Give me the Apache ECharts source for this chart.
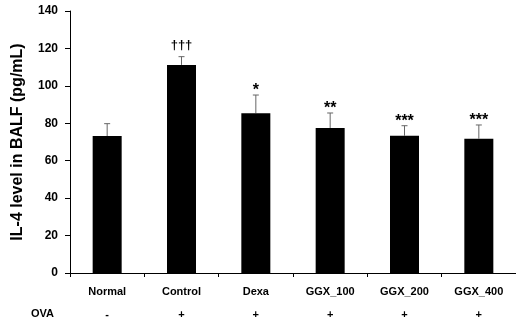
<!DOCTYPE html>
<html><head><meta charset="utf-8">
<script src="https://cdn.jsdelivr.net/npm/echarts@6/dist/echarts.min.js"></script>
<style>html,body{margin:0;padding:0;background:#fff}#c{width:516px;height:323px}</style>
</head><body><div id="c"></div>
<script>
var categories = ['Normal', 'Control', 'Dexa', 'GGX_100', 'GGX_200', 'GGX_400'];
var means = [73.2, 111.2, 85.4, 77.5, 73.4, 71.8];
var errors = [6.6, 4.4, 9.7, 8.0, 5.3, 7.3];
var marks = ['', '†††', '*', '**', '***', '***'];
var ova = ['-', '+', '+', '+', '+', '+'];
var yTicks = [0, 20, 40, 60, 80, 100, 120, 140];

var FONT = 'Liberation Sans, Arial, sans-serif';
var chart = echarts.init(document.getElementById('c'));
chart.setOption({
  animation: false,
  backgroundColor: '#fff',
  grid: {left: 70, right: 0, top: 11, bottom: 50},
  xAxis: {
    type: 'category', data: categories,
    axisLine: {lineStyle: {color: '#000', width: 1}},
    axisTick: {show: true, inside: false, length: 4, lineStyle: {color: '#000'}},
    axisLabel: {
      margin: 7, interval: 0,
      formatter: function (v, i) { return '{a|' + v + '}\n{b|' + ova[i] + '}'; },
      rich: {
        a: {fontFamily: FONT, fontWeight: 'bold', fontSize: 11, color: '#000', lineHeight: 23},
        b: {fontFamily: FONT, fontWeight: 'bold', fontSize: 11, color: '#000', lineHeight: 23}
      }
    }
  },
  yAxis: {
    type: 'value', min: yTicks[0], max: yTicks[yTicks.length - 1], interval: 20,
    name: 'IL-4 level in BALF (pg/mL)', nameLocation: 'middle', nameGap: 44,
    nameTextStyle: {fontFamily: FONT, fontWeight: 'bold', fontSize: 16, color: '#000'},
    axisLine: {show: true, lineStyle: {color: '#000', width: 1}},
    axisTick: {show: true, length: 5, lineStyle: {color: '#000'}},
    axisLabel: {fontFamily: FONT, fontWeight: 'bold', fontSize: 12, color: '#000', margin: 12},
    splitLine: {show: false}
  },
  graphic: [{
    type: 'text', left: 31, top: 308,
    style: {text: 'OVA', fontFamily: FONT, fontWeight: 'bold', fontSize: 11, fill: '#000'}
  }],
  series: [{
    type: 'bar', data: means, barWidth: 29,
    itemStyle: {color: '#000'}
  }, {
    type: 'custom',
    data: categories.map(function (c, i) { return [i, means[i], errors[i], marks[i]]; }),
    renderItem: function (params, api) {
      var i = api.value(0);
      var base = api.coord([i, api.value(1)]);
      var top = api.coord([i, api.value(1) + api.value(2)]);
      var x = base[0];
      var isStar = marks[i].indexOf('*') >= 0;
      return {
        type: 'group',
        children: [
          {type: 'line', shape: {x1: x, y1: base[1], x2: x, y2: top[1]}, style: {stroke: '#666', lineWidth: 1}},
          {type: 'line', shape: {x1: x - 3, y1: top[1], x2: x + 3, y2: top[1]}, style: {stroke: '#666', lineWidth: 1}},
          {type: 'text', x: x, y: isStar ? top[1] + 4 : top[1] - 5,
           style: {text: marks[i], fontFamily: FONT, fontWeight: 'bold', fontSize: isStar ? 16 : 13, fill: '#000', align: 'center', verticalAlign: 'bottom'}}
        ]
      };
    }
  }]
});
</script></body></html>
